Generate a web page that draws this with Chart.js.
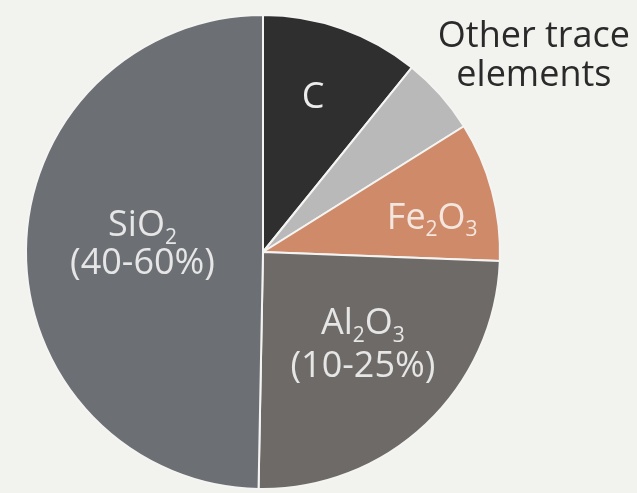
<!DOCTYPE html>
<html>
<head>
<meta charset="utf-8">
<script src="https://cdn.jsdelivr.net/npm/chart.js@4/dist/chart.umd.min.js"></script>
<style>
  html, body { margin: 0; padding: 0; background: #f2f2ee; overflow: hidden; }
  #wrap { width: 637px; height: 493px; position: relative; }
</style>
</head>
<body>
<div id="wrap"><canvas id="chart"></canvas></div>
<script>
// Composition of the material, clockwise from 12 o'clock
const components = ['C', 'Other trace elements', 'Fe₂O₃', 'Al₂O₃', 'SiO₂'];
const shares = [10.8, 5.3, 9.5, 24.7, 49.7];
const sliceColors = ['#2f2f2f', '#b9b9b9', '#cf8a69', '#6e6a67', '#6c7075'];

// Text written on (or beside) each slice
const sliceText = [
  ['C'],
  ['Other trace', 'elements'],
  ['Fe₂O₃'],
  ['Al₂O₃', '(10-25%)'],
  ['SiO₂', '(40-60%)']
];

// Placement of each slice's text: fraction of radius, angle tweak (deg), colour, line gap
const textPlacement = [
  { r: 0.695, da: -1.7, color: '#ececec', gap: 40 },
  { r: 1.418, da: 5.3, color: '#2a2a2a', gap: 39 },
  { r: 0.73, da: 2.9, color: '#f3e6de', gap: 40 },
  { r: 0.57, da: -4.3, color: '#e6e6e6', gap: 43 },
  { r: 0.51, da: 4, color: '#e6e6e6', gap: 38 }
];

const FONT_FAMILY = '"Open Sans", "Noto Sans", sans-serif';
const FONT_SIZE = 36;
const SUBS = { '₀':'0','₁':'1','₂':'2','₃':'3','₄':'4','₅':'5','₆':'6','₇':'7','₈':'8','₉':'9' };

// Split a string into runs of normal text and subscript digits
function runsOf(str) {
  const runs = [];
  for (const ch of str) {
    const sub = ch in SUBS;
    const t = sub ? SUBS[ch] : ch;
    const last = runs[runs.length - 1];
    if (last && last.sub === sub) last.text += t; else runs.push({ sub, text: t });
  }
  return runs;
}

function drawRich(ctx, str, cx, cy, size) {
  const runs = runsOf(str);
  const subSize = Math.round(size * 0.58);
  let total = 0;
  runs.forEach(r => {
    ctx.font = (r.sub ? subSize : size) + 'px ' + FONT_FAMILY;
    r.w = ctx.measureText(r.text).width;
    total += r.w;
  });
  let x = cx - total / 2;
  const base = cy + size * 0.36;
  runs.forEach(r => {
    ctx.font = (r.sub ? subSize : size) + 'px ' + FONT_FAMILY;
    ctx.fillText(r.text, x, r.sub ? base + size * 0.2 : base);
    x += r.w;
  });
}

const sliceLabels = {
  id: 'sliceLabels',
  afterDatasetsDraw(chart) {
    const ctx = chart.ctx;
    const arcs = chart.getDatasetMeta(0).data;
    ctx.save();
    ctx.textAlign = 'left';
    ctx.textBaseline = 'alphabetic';
    arcs.forEach((arc, i) => {
      const p = arc.getProps(['x', 'y', 'startAngle', 'endAngle', 'outerRadius'], true);
      const place = textPlacement[i];
      const mid = (p.startAngle + p.endAngle) / 2 + place.da * Math.PI / 180;
      const cx = p.x + Math.cos(mid) * p.outerRadius * place.r;
      const cy = p.y + Math.sin(mid) * p.outerRadius * place.r;
      const lines = sliceText[i];
      const top = cy - (lines.length - 1) * place.gap / 2;
      ctx.fillStyle = place.color;
      lines.forEach((line, k) => drawRich(ctx, line, cx, top + k * place.gap, FONT_SIZE));
    });
    ctx.restore();
  }
};

new Chart(document.getElementById('chart'), {
  type: 'pie',
  data: {
    labels: components,
    datasets: [{
      data: shares,
      backgroundColor: sliceColors,
      borderColor: '#f4f4f2',
      borderWidth: 2
    }]
  },
  options: {
    responsive: true,
    maintainAspectRatio: false,
    animation: false,
    layout: { padding: { left: 25, top: 14, right: 136, bottom: 3 } },
    plugins: {
      legend: { display: false },
      tooltip: { enabled: false }
    }
  },
  plugins: [sliceLabels]
});
</script>
</body>
</html>
